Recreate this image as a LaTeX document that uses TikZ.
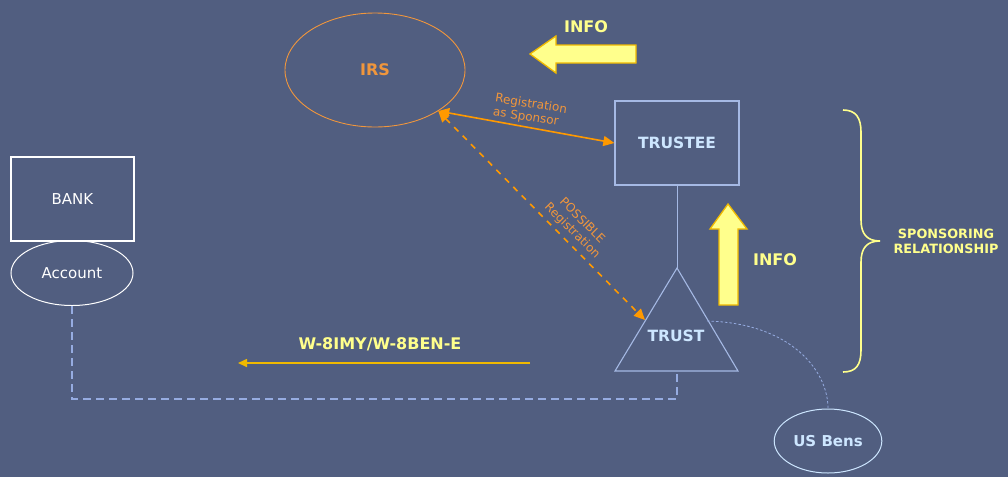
\documentclass[tikz,border=0pt]{standalone}
\usepackage{fontspec}
\setmainfont{DejaVu Sans}
\usetikzlibrary{arrows.meta,shapes.geometric}
\definecolor{bg}{RGB}{81,94,128}
\definecolor{orng}{RGB}{255,153,0}
\definecolor{orngtxt}{RGB}{240,150,60}
\definecolor{lblue}{RGB}{165,185,228}
\definecolor{lbluetxt}{RGB}{205,230,255}
\definecolor{ytxt}{RGB}{255,255,140}
\definecolor{yfill}{RGB}{255,255,140}
\definecolor{gold}{RGB}{240,185,0}
\definecolor{dblue}{RGB}{150,172,225}
\tikzset{
  lbl/.style={font=\bfseries\fontsize{16}{18}\selectfont, text=ytxt},
  ntxt/.style={font=\bfseries\fontsize{15.5}{18}\selectfont, text=lbluetxt},
  otip/.tip={Triangle[length=11pt,width=10pt]},
  bigarrow/.style={fill=yfill, draw=gold, line width=1.3pt, line join=miter},
}
\begin{document}
\begin{tikzpicture}[x=1pt,y=-1pt]
\fill[bg] (0,0) rectangle (1008,477);
\useasboundingbox (0,0) rectangle (1008,477);

% IRS
\node[ellipse, draw=orngtxt, line width=0.9pt, minimum width=180, minimum height=114,
      font=\bfseries\fontsize{16}{18}\selectfont, text=orngtxt] (irs) at (375,70) {IRS};

% INFO left arrow
\draw[bigarrow] (636,45) -- (556,45) -- (556,36) -- (530,54) -- (556,73) -- (556,63) -- (636,63) -- cycle;
\node[lbl] (info1) at (586,27) {INFO};

% TRUSTEE
\node[draw=lblue, line width=1.3pt, minimum width=124, minimum height=84, ntxt] (trustee) at (677,143) {TRUSTEE};

% Triangle TRUST
\coordinate (apex) at (677,268);
\coordinate (bl) at (615,371);
\coordinate (br) at (738,371);
\draw[lblue, line width=1.1pt, line join=miter] (apex) -- (bl) -- (br) -- cycle;
\node[ntxt] (trust) at (676,336) {TRUST};
\coordinate (trustL) at (645,320);
\coordinate (trustR) at (707,321);
\coordinate (trustB) at (677,371);

\draw[lblue, line width=1pt] (trustee.south) -- (apex);

% Registration as Sponsor
\draw[orng, line width=1.6pt, otip-otip] (irs.-33) -- (trustee.west);
\node[text=orngtxt, font=\fontsize{12}{13.5}\selectfont, rotate=-9, align=left] (regsp) at (530,111) {Registration\\as Sponsor};

% Possible registration
\draw[orng, line width=1.6pt, dash pattern=on 6pt off 6pt, otip-otip] (irs.-33) -- (trustL);
\node[text=orngtxt, font=\fontsize{12}{14}\selectfont, rotate=-45, align=center] (possreg) at (577,226) {POSSIBLE\\Registration};

% INFO up arrow
\draw[bigarrow] (719,305) -- (719,229) -- (710,229) -- (728,204) -- (747,229) -- (738,229) -- (738,305) -- cycle;
\node[lbl] (info2) at (775,260) {INFO};

% Brace
\draw[ytxt, line width=1.6pt] (843,110) .. controls (856,110) and (861,118) .. (861,132)
   -- (861,220) .. controls (861,234) and (867,241) .. (880,241)
   .. controls (867,241) and (861,248) .. (861,262)
   -- (861,350) .. controls (861,365) and (856,372) .. (843,372);
\node[text=ytxt, font=\bfseries\fontsize{12.8}{15}\selectfont, align=center] (spons) at (946,241) {SPONSORING\\RELATIONSHIP};

% BANK
\node[draw=white, line width=1.3pt, minimum width=123, minimum height=84, text=white,
      font=\fontsize{15}{18}\selectfont] (bank) at (72.5,199) {BANK};
\node[ellipse, draw=white, line width=1pt, minimum width=122, minimum height=65, text=white,
      font=\fontsize{15}{18}\selectfont] (account) at (72,273) {Account};

% dashed link
\coordinate (c1) at (72,399);
\coordinate (c2) at (677,399);
\draw[dblue, line width=1.3pt, dash pattern=on 8pt off 5pt] (account.south) -- (c1) -- (c2) -- (trustB);

% W-8 arrow
\coordinate (wstart) at (530,363);
\coordinate (wend) at (238,363);
\draw[gold, line width=1.6pt, -{Triangle[length=9pt,width=8pt]}] (wstart) -- (wend);
\node[lbl] (w8) at (380,344) {W-8IMY/W-8BEN-E};

% US Bens
\node[ellipse, draw=lbluetxt, line width=1pt, minimum width=104, minimum height=64, ntxt,
      font=\bfseries\fontsize{15}{18}\selectfont] (usbens) at (828,441) {US Bens};
\draw[dblue, line width=0.8pt, dash pattern=on 2.5pt off 2pt] (trustR) .. controls (790,323) and (828,370) .. (usbens.north);
\end{tikzpicture}
\end{document}
